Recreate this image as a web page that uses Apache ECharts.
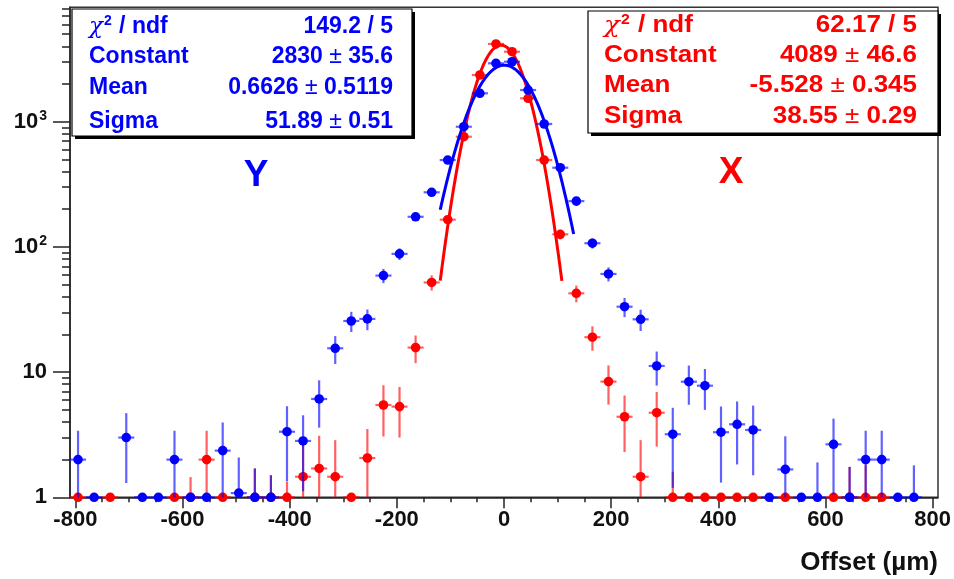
<!DOCTYPE html>
<html>
<head>
<meta charset="utf-8">
<script src="https://cdn.jsdelivr.net/npm/echarts@6/dist/echarts.min.js"></script>
<style>
html,body{margin:0;padding:0;background:#fff;}
#chart{width:954px;height:579px;}
</style>
</head>
<body>
<div id="chart"></div>
<script>
// ---- data ----
const binCenters = [-795,-765,-735,-705,-675,-645,-615,-585,-555,-525,-495,-465,-435,-405,-375,-345,-315,-285,-255,-225,-195,-165,-135,-105,-75,-45,-15,15,45,75,105,135,165,195,225,255,285,315,345,375,405,435,465,495,525,555,585,615,645,675,705,735,765,795];
const BIN_HALF = 15;

// Y (blue) histogram
const countsY = [2,1,null,3,1,1,2,1,1,2.36,1.08,1,1,3.34,2.82,6.1,15.5,25.6,26.6,59,88,174,273,494,912,1686,2927,3013,1791,959,429,232,107,60.8,33.3,26.4,11.2,3.19,8.38,7.79,3.31,3.83,3.45,1,1.67,1,1,2.65,1,2,2,1,1,null];
const errY = [1.4,0,0,1.7,0,0,1.4,0,0,1.6,1.0,0.7,0.5,2.0,1.7,2.5,3.9,4.7,5.0,7.7,9.4,13,16,22,30,41,54,55,42,31,21,15,10,7.8,5.8,5.1,3.4,2.0,2.9,2.8,2.0,2.0,1.95,0,1.4,0,0.9,1.6,0.75,1.4,1.4,0,0.8,0];

// X (red) histogram
const countsX = [1,null,1,null,null,null,1,1,2,1,null,1,1,1,1.46,1.7,1.46,1,2.06,5.46,5.3,15.7,52,165,759,2361,4178,3623,1538,494,126,42.6,19,8.4,4.4,1.46,4.74,1,1,1,1,1,1,null,1,null,null,1,1,1,1,null,null,null];
const errX = [0,0,0,0,0,0,0,0.45,1.4,0,0,0.7,0.5,0.33,1.55,1.4,1.4,0,1.45,2.4,2.3,3.9,7.2,13,28,49,65,60,39,22,11,6.5,4.2,2.9,2.1,1.4,2.2,0.6,0,0,0,0,0,0,0,0,0,0,0.75,0.8,0,0,0,0];

// Gaussian fit parameters [constant, mean, sigma] and fit ranges
const fitParamsY = [2830, 0.6626, 51.89];
const fitRangeY = [-119, 130];
const fitParamsX = [4089, -5.528, 38.55];
const fitRangeX = [-119, 108];

// stats box texts
const statsY = [["χ2 / ndf","149.2 / 5"],["Constant","2830","35.6"],["Mean","0.6626","0.5119"],["Sigma","51.89","0.51"]];
const statsX = [["χ2 / ndf","62.17 / 5"],["Constant","4089","46.6"],["Mean","-5.528","0.345"],["Sigma","38.55","0.29"]];

// axis ticks
const xMajorTicks = [-800,-600,-400,-200,0,200,400,600,800];
const xMinorTicks = [-800,-750,-700,-650,-600,-550,-500,-450,-400,-350,-300,-250,-200,-150,-100,-50,0,50,100,150,200,250,300,350,400,450,500,550,600,650,700,750,800];
const yMajorTicks = [1,10,100,1000];
const yMinorTicks = [2,3,4,5,6,7,8,9,20,30,40,50,60,70,80,90,200,300,400,500,600,700,800,900,2000,3000,4000,5000,6000,7000,8000];
const Y_MIN = 1, Y_MAX = 8200;

const BLUE = '#0000ff', RED = '#ff0000';
const FONT = 'Liberation Sans, Arial, sans-serif';

function pts(counts, errs) {
  const out = [];
  for (let i = 0; i < binCenters.length; i++) {
    if (counts[i] == null) continue;
    out.push([binCenters[i], counts[i], errs[i]]);
  }
  return out;
}
function fitCurve(p, range) {
  const out = [];
  for (let x = range[0]; x <= range[1] + 1e-9; x += 1) {
    const t = (x - p[1]) / p[2];
    out.push([x, p[0] * Math.exp(-0.5 * t * t)]);
  }
  return out;
}
function makeRender(color) {
  return function (params, api) {
    const x = api.value(0), y = api.value(1), e = api.value(2);
    const c = api.coord([x, y]);
    const children = [];
    if (e > 0) {
      const top = api.coord([x, Math.min(y + e, Y_MAX)]);
      const bot = api.coord([x, Math.max(y - e, Y_MIN)]);
      children.push({type:'line', shape:{x1:c[0], y1:top[1], x2:c[0], y2:bot[1]}, style:{stroke:color, lineWidth:2.2, opacity:0.62}});
    }
    const l = api.coord([x - BIN_HALF, y]), r = api.coord([x + BIN_HALF, y]);
    children.push({type:'line', shape:{x1:l[0], y1:c[1], x2:r[0], y2:c[1]}, style:{stroke:color, lineWidth:2.2, opacity:0.62}});
    children.push({type:'circle', shape:{cx:c[0], cy:c[1], r:4.8}, style:{fill:color}});
    return {type:'group', children};
  };
}

function statsGraphics(stats, color, box, labelX, valueRight, rowsY, scaleX) {
  const g = [];
  g.push({type:'rect', shape:{x:box[0]+3, y:box[1]+3, width:box[2], height:box[3]}, style:{fill:'#000'}, z:100});
  g.push({type:'rect', shape:{x:box[0], y:box[1], width:box[2], height:box[3]}, style:{fill:'#fff', stroke:'#000', lineWidth:1.2}, z:101});
  const rich = {
    b:{fontFamily:FONT, fontWeight:'bold', fontSize:23, fill:color, color:color},
    n:{fontFamily:FONT, fontWeight:'normal', fontSize:23, fill:color, color:color},
    chi:{fontFamily:'DejaVu Serif, serif', fontStyle:'italic', fontWeight:'normal', fontSize:23, fill:color, color:color},
    sup:{fontFamily:FONT, fontWeight:'bold', fontSize:14, fill:color, color:color, padding:[0,1,12,1]}
  };
  stats.forEach((row, i) => {
    let label;
    if (i === 0) label = '{chi|χ}{sup|2}{b| / ndf}';
    else label = '{b|' + row[0] + '}';
    let value;
    if (row.length === 2) value = '{b|' + row[1] + '}';
    else value = '{b|' + row[1] + '}{n| ± }{b|' + row[2] + '}';
    g.push({type:'text', x:labelX, y:rowsY[i], scaleX:scaleX, z:102,
      style:{text:label, rich:rich, align:'left', verticalAlign:'middle', fill:color, font:'bold 23px ' + FONT}});
    g.push({type:'text', x:valueRight, y:rowsY[i], scaleX:scaleX, z:102,
      style:{text:value, rich:rich, align:'right', verticalAlign:'middle', fill:color, font:'bold 23px ' + FONT}});
  });
  return g;
}

const chart = echarts.init(document.getElementById('chart'), null, {renderer:'canvas'});
const axisLineStyle = {color:'#222', width:1.5};

const graphics = []
  .concat(statsGraphics(statsY, BLUE, [72, 9, 340, 127], 89, 393, [27, 57, 88, 122], 1))
  .concat(statsGraphics(statsX, RED, [588, 11, 350, 122], 604, 917, [26, 56, 86, 117], 1.13))
  .concat([
    {type:'text', x:256, y:176, z:50, style:{text:'Y', font:'bold 37px ' + FONT, fill:BLUE, align:'center', verticalAlign:'middle'}},
    {type:'text', x:731, y:173, z:50, style:{text:'X', font:'bold 37px ' + FONT, fill:RED, align:'center', verticalAlign:'middle'}},
    {type:'text', x:938, y:563, z:50, style:{text:'Offset (µm)', font:'bold 26px ' + FONT, fill:'#111', align:'right', verticalAlign:'middle'}}
  ]);

const option = {
  animation:false,
  backgroundColor:'#fff',
  grid:{left:70, right:14.5, top:7.3, bottom:81.7, show:true, borderColor:'#333', borderWidth:1.5, backgroundColor:'transparent'},
  xAxis:[
    {type:'value', min:-810, max:810, position:'bottom',
     axisLine:{show:true, onZero:false, lineStyle:axisLineStyle},
     axisTick:{show:true, length:11, customValues:xMajorTicks, lineStyle:axisLineStyle},
     axisLabel:{customValues:xMajorTicks, fontSize:22, fontWeight:'bold', fontFamily:FONT, color:'#111', margin:12},
     splitLine:{show:false}},
    {type:'value', min:-810, max:810, position:'bottom', offset:0,
     axisLine:{show:false, onZero:false},
     axisTick:{show:true, length:5, customValues:xMinorTicks, lineStyle:axisLineStyle},
     axisLabel:{show:false}, splitLine:{show:false}}
  ],
  yAxis:[
    {type:'log', logBase:10, min:Y_MIN, max:Y_MAX, position:'left',
     axisLine:{show:true, onZero:false, lineStyle:axisLineStyle},
     axisTick:{show:true, length:17, customValues:yMajorTicks, lineStyle:axisLineStyle},
     axisLabel:{customValues:yMajorTicks, margin:23, fontFamily:FONT, fontWeight:'bold', fontSize:22, color:'#111',
       formatter:function(v){
         if (v >= 999 && v <= 1001) return '{b|10}{s|3}';
         if (v >= 99 && v <= 101) return '{b|10}{s|2}';
         if (v >= 9 && v <= 11) return '{b|10}';
         return '{b|1}';
       },
       rich:{b:{fontFamily:FONT, fontWeight:'bold', fontSize:22, color:'#111'},
             s:{fontFamily:FONT, fontWeight:'bold', fontSize:14, color:'#111', padding:[0,0,12,1]}}},
     splitLine:{show:false}},
    {type:'log', logBase:10, min:Y_MIN, max:Y_MAX, position:'left', offset:0,
     axisLine:{show:false, onZero:false},
     axisTick:{show:true, length:8, customValues:yMinorTicks, lineStyle:axisLineStyle},
     axisLabel:{show:false}, splitLine:{show:false}}
  ],
  series:[
    {type:'custom', name:'X', xAxisIndex:0, yAxisIndex:0, clip:false, z:3,
     renderItem:makeRender(RED), encode:{x:0, y:1}, data:pts(countsX, errX)},
    {type:'line', name:'X fit', xAxisIndex:0, yAxisIndex:0, showSymbol:false, symbol:'none', z:4,
     lineStyle:{color:RED, width:3}, data:fitCurve(fitParamsX, fitRangeX)},
    {type:'custom', name:'Y', xAxisIndex:0, yAxisIndex:0, clip:false, z:5,
     renderItem:makeRender(BLUE), encode:{x:0, y:1}, data:pts(countsY, errY)},
    {type:'line', name:'Y fit', xAxisIndex:0, yAxisIndex:0, showSymbol:false, symbol:'none', z:6,
     lineStyle:{color:BLUE, width:3}, data:fitCurve(fitParamsY, fitRangeY)}
  ],
  graphic:graphics
};
chart.setOption(option);
</script>
</body>
</html>
